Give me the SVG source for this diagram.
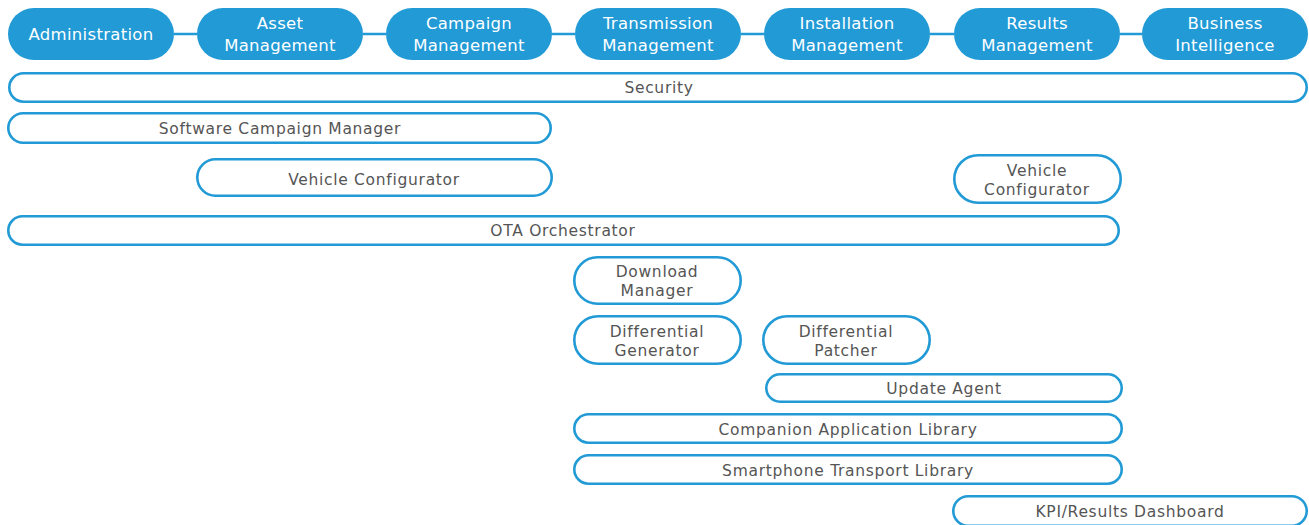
<svg xmlns="http://www.w3.org/2000/svg" width="1309" height="525" viewBox="0 0 1309 525">
<style>
.hdr rect{fill:#219ad6;}
.hdr text{fill:#ffffff;font-family:"DejaVu Sans","Liberation Sans",sans-serif;font-size:16.5px;letter-spacing:0.3px;text-anchor:middle;}
.box rect{fill:#ffffff;stroke:#219ad6;stroke-width:2.6;}
.box text{fill:#555555;font-family:"DejaVu Sans","Liberation Sans",sans-serif;font-size:15.5px;letter-spacing:0.7px;text-anchor:middle;}
.conn line{stroke:#219ad6;stroke-width:2.5;}
</style>
<rect width="1309" height="525" fill="#ffffff"/>
<g id="connectors" class="conn">
<line x1="174" y1="34" x2="197" y2="34"/>
<line x1="363" y1="34" x2="386" y2="34"/>
<line x1="552" y1="34" x2="575" y2="34"/>
<line x1="741" y1="34" x2="764" y2="34"/>
<line x1="930" y1="34" x2="954" y2="34"/>
<line x1="1120" y1="34" x2="1142" y2="34"/>
</g>
<g id="administration" class="hdr"><rect x="8" y="8" width="166" height="52" rx="26"/><text x="91" y="40">Administration</text></g>
<g id="asset-management" class="hdr"><rect x="197" y="8" width="166" height="52" rx="26"/><text x="280" y="29">Asset</text><text x="280" y="51">Management</text></g>
<g id="campaign-management" class="hdr"><rect x="386" y="8" width="166" height="52" rx="26"/><text x="469" y="29">Campaign</text><text x="469" y="51">Management</text></g>
<g id="transmission-management" class="hdr"><rect x="575" y="8" width="166" height="52" rx="26"/><text x="658" y="29">Transmission</text><text x="658" y="51">Management</text></g>
<g id="installation-management" class="hdr"><rect x="764" y="8" width="166" height="52" rx="26"/><text x="847" y="29">Installation</text><text x="847" y="51">Management</text></g>
<g id="results-management" class="hdr"><rect x="954" y="8" width="166" height="52" rx="26"/><text x="1037" y="29">Results</text><text x="1037" y="51">Management</text></g>
<g id="business-intelligence" class="hdr"><rect x="1142" y="8" width="166" height="52" rx="26"/><text x="1225" y="29">Business</text><text x="1225" y="51">Intelligence</text></g>

<g id="security" class="box"><rect x="9.3" y="73.3" width="1297.4" height="28.4" rx="14.2"/><text x="659" y="93">Security</text></g>
<g id="software-campaign-manager" class="box"><rect x="8.3" y="113.3" width="542.4" height="29.4" rx="14.7"/><text x="280" y="134">Software Campaign Manager</text></g>
<g id="vehicle-configurator-1" class="box"><rect x="197.3" y="159.3" width="354.4" height="36.4" rx="18.2"/><text x="374" y="185">Vehicle Configurator</text></g>
<g id="vehicle-configurator-2" class="box"><rect x="954.3" y="155.3" width="166.4" height="47.4" rx="23.7"/><text x="1037" y="176">Vehicle</text><text x="1037" y="195">Configurator</text></g>
<g id="ota-orchestrator" class="box"><rect x="8.3" y="216.3" width="1110.4" height="28.4" rx="14.2"/><text x="563" y="236">OTA Orchestrator</text></g>
<g id="download-manager" class="box"><rect x="574.3" y="257.3" width="166.4" height="46.4" rx="23.2"/><text x="657" y="277">Download</text><text x="657" y="296">Manager</text></g>
<g id="differential-generator" class="box"><rect x="574.3" y="316.3" width="166.4" height="47.4" rx="23.7"/><text x="657" y="337">Differential</text><text x="657" y="356">Generator</text></g>
<g id="differential-patcher" class="box"><rect x="763.3" y="316.3" width="166.4" height="47.4" rx="23.7"/><text x="846" y="337">Differential</text><text x="846" y="356">Patcher</text></g>
<g id="update-agent" class="box"><rect x="766.3" y="374.3" width="355.4" height="27.4" rx="13.7"/><text x="944" y="394">Update Agent</text></g>
<g id="companion-application-library" class="box"><rect x="574.3" y="414.3" width="547.4" height="28.4" rx="14.2"/><text x="848" y="435">Companion Application Library</text></g>
<g id="smartphone-transport-library" class="box"><rect x="574.3" y="455.3" width="547.4" height="28.4" rx="14.2"/><text x="848" y="476">Smartphone Transport Library</text></g>
<g id="kpi-results-dashboard" class="box"><rect x="953.3" y="496.3" width="353.4" height="29.4" rx="14.7"/><text x="1130" y="517">KPI/Results Dashboard</text></g>
</svg>
